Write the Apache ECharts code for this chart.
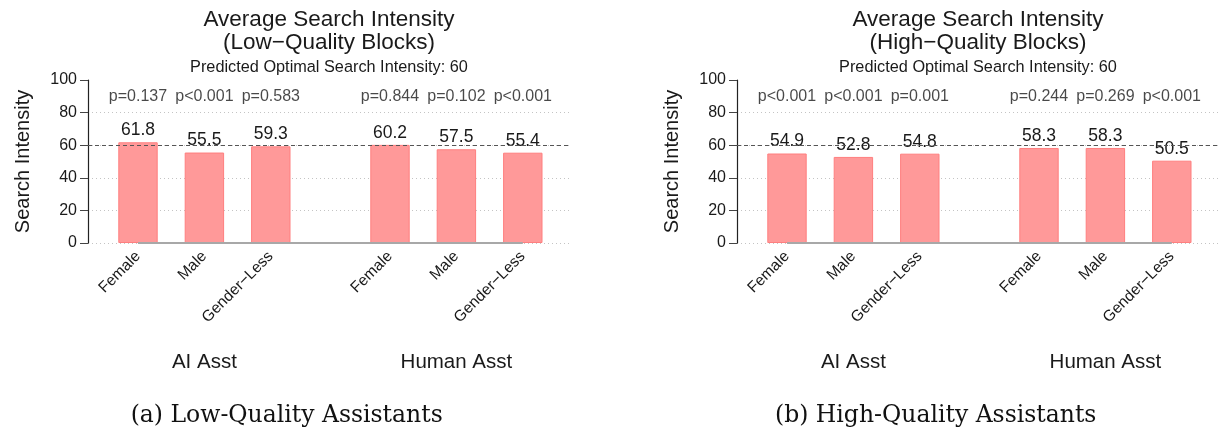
<!DOCTYPE html>
<html><head><meta charset="utf-8">
<script src="https://cdn.jsdelivr.net/npm/echarts@6/dist/echarts.min.js"></script>
<style>html,body{margin:0;padding:0;background:#fff}#c{width:1224px;height:434px}</style>
</head><body><div id="c"></div>
<script>
// ---- data ----
const genders = ['Female', 'Male', 'Gender\u2212Less'];
const groups = ['AI Asst', 'Human Asst'];
const lowAI = [61.8, 55.5, 59.3];
const lowHuman = [60.2, 57.5, 55.4];
const highAI = [54.9, 52.8, 54.8];
const highHuman = [58.3, 58.3, 50.5];
const pLowAI = ['p=0.137', 'p<0.001', 'p=0.583'];
const pLowHuman = ['p=0.844', 'p=0.102', 'p<0.001'];
const pHighAI = ['p<0.001', 'p<0.001', 'p=0.001'];
const pHighHuman = ['p=0.244', 'p=0.269', 'p<0.001'];
const optimalIntensity = 60;
const yMin = 0, yMax = 100, yStep = 20;
const pLabelLevel = 90;
const panelTitles = ['Average Search Intensity\n(Low\u2212Quality Blocks)', 'Average Search Intensity\n(High\u2212Quality Blocks)'];
const panelSubtitle = 'Predicted Optimal Search Intensity: 60';
const captions = ['(a) Low-Quality Assistants', '(b) High-Quality Assistants'];
const yName = 'Search Intensity';

// ---- layout ----
const H = 434;
const PANEL_DX = 649;
const PLOT_LEFT = 88, PLOT_W = 482, PLOT_TOP = 80, PLOT_BOTTOM = 243;
const GROUP_LEFT = [104.8, 356.8], GROUP_W = 199.2;
const FONT = "'Liberation Sans', Arial, Helvetica, sans-serif";
const SERIF = "'DejaVu Serif', 'Liberation Serif', serif";
const TXT = '#1a1a1a';

const panels = [
  {ai: lowAI, hu: lowHuman, pai: pLowAI, phu: pLowHuman},
  {ai: highAI, hu: highHuman, pai: pHighAI, phu: pHighHuman}
];

const grids = [], xAxes = [], yAxes = [], series = [], titles = [];
const gridBottom = H - PLOT_BOTTOM;
const hiddenY = (gi) => ({type: 'value', gridIndex: gi, min: yMin, max: yMax, interval: yStep, show: false});

panels.forEach((p, pi) => {
  const dx = pi * PANEL_DX;
  // main grid
  const gM = grids.length;
  grids.push({left: PLOT_LEFT + dx, width: PLOT_W, top: PLOT_TOP, bottom: gridBottom, containLabel: false});
  xAxes.push({type: 'value', gridIndex: gM, min: 0, max: 1, show: false});
  const n = (yMax - yMin) / yStep;
  const splitColors = [];
  for (let i = 0; i <= n; i++) splitColors.push(i === n ? 'rgba(0,0,0,0)' : '#c4c4c4');
  yAxes.push({
    type: 'value', gridIndex: gM, min: yMin, max: yMax, interval: yStep,
    name: yName, nameLocation: 'middle', nameGap: 55,
    nameTextStyle: {fontSize: 20, color: TXT, fontFamily: FONT},
    axisLine: {show: true, lineStyle: {color: '#222', width: 1.2}},
    axisTick: {show: true, length: 8, lineStyle: {color: '#444'}},
    axisLabel: {fontSize: 16, color: TXT, margin: 11, fontFamily: FONT},
    splitLine: {show: true, lineStyle: {type: [1, 3], color: splitColors, width: 1}}
  });
  series.push({
    type: 'line', xAxisIndex: gM, yAxisIndex: gM, data: [], silent: true,
    markLine: {silent: true, symbol: ['none', 'none'], label: {show: false},
      lineStyle: {type: [4, 3], color: '#555', width: 1.1},
      data: [{yAxis: optimalIntensity}]}
  });
  // group grids
  [[p.ai, p.pai], [p.hu, p.phu]].forEach((pair, gi) => {
    const g = grids.length;
    grids.push({left: GROUP_LEFT[gi] + dx, width: GROUP_W, top: PLOT_TOP, bottom: gridBottom, containLabel: false});
    xAxes.push({
      type: 'category', gridIndex: g, data: genders,
      axisLine: {show: false}, axisTick: {show: false},
      axisLabel: {rotate: 45, fontSize: 15.5, color: TXT, margin: 11, fontFamily: FONT, interval: 0},
      name: groups[gi], nameLocation: 'middle', nameGap: 109,
      nameTextStyle: {fontSize: 20.5, color: TXT, fontFamily: FONT}
    });
    yAxes.push(hiddenY(g));
    series.push({
      type: 'bar', xAxisIndex: g, yAxisIndex: g, data: pair[0], barWidth: 39.4,
      itemStyle: {color: '#ff9999', borderColor: '#ff7f7f', borderWidth: 1},
      label: {show: true, position: 'top', distance: 3, fontSize: 17.5, color: TXT, fontFamily: FONT,
        formatter: (d) => d.value.toFixed(1)}
    });
    series.push({
      type: 'scatter', xAxisIndex: g, yAxisIndex: g, symbolSize: 0,
      data: genders.map(() => pLabelLevel),
      label: {show: true, position: 'inside', fontSize: 16, color: TXT, fontFamily: FONT,
        formatter: (d) => pair[1][d.dataIndex]}
    });
  });
  const cx = PLOT_LEFT + PLOT_W / 2 + dx;
  titles.push({text: panelTitles[pi], left: cx, top: 8, padding: 0, textAlign: 'center',
    textStyle: {fontSize: 22.5, lineHeight: 23, fontWeight: 'normal', color: TXT, fontFamily: FONT}});
  titles.push({text: panelSubtitle, left: cx, top: 58, padding: 0, textAlign: 'center',
    textStyle: {fontSize: 16.3, lineHeight: 19, fontWeight: 'normal', color: TXT, fontFamily: FONT}});
  titles.push({text: captions[pi], left: 286.7 + dx, top: 402, padding: 0, textAlign: 'center',
    textStyle: {fontSize: 23.5, lineHeight: 27, fontWeight: 'normal', color: '#111', fontFamily: SERIF}});
});

const chart = echarts.init(document.getElementById('c'), null, {renderer: 'canvas'});
chart.setOption({
  animation: false,
  backgroundColor: '#fff',
  textStyle: {fontFamily: FONT},
  title: titles,
  grid: grids, xAxis: xAxes, yAxis: yAxes, series: series
});

// grey baseline from first to last bar centre of each panel
const graphics = [];
panels.forEach((p, pi) => {
  const aiX = 3 * pi + 1, huX = 3 * pi + 2;
  const x0 = chart.convertToPixel({xAxisIndex: aiX}, 0);
  const x1 = chart.convertToPixel({xAxisIndex: huX}, genders.length - 1);
  const y0 = chart.convertToPixel({yAxisIndex: aiX}, 0);
  graphics.push({type: 'line', z: 5, shape: {x1: x0, y1: y0, x2: x1, y2: y0},
    style: {stroke: '#a8a8a8', lineWidth: 2}});
});
chart.setOption({graphic: graphics});
</script>
</body></html>
